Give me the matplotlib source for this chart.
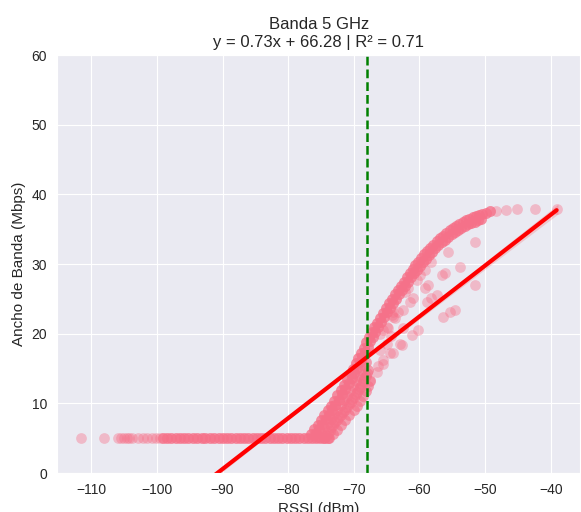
import numpy as np
import matplotlib
matplotlib.use("Agg")
import matplotlib.pyplot as plt
import seaborn as sns

# regression reported in the title
slope = 0.73
intercept = 66.28
r2 = 0.71
rssi_threshold = -68.0

# floor of the curve: many readings at 5 Mbps
floor_y = 5.0
floor_sparse_x = [-111.6, -108.1, -105.9, -105.5, -105.0, -104.6, -104.2, -103.8,
                  -102.8, -102.1, -101.5, -100.8, -100.2, -99.5]
floor_dense_x = [-99.0, -98.4, -97.8, -97.1, -96.5, -95.8, -95.2, -94.5, -93.9, -93.2,
                 -92.6, -91.9, -91.3, -90.6, -90.0, -89.3, -88.7, -88.0, -87.4, -86.7,
                 -86.1, -85.4, -84.8, -84.1, -83.5, -82.8, -82.2, -81.5, -80.9, -80.2,
                 -79.6, -78.9, -78.3, -77.6, -77.0, -76.4, -75.8, -75.2, -74.6, -74.0]

# main rising band, upper row
band_x = [-76.5, -76.0, -75.5, -75.0, -74.5, -74.0, -73.5, -73.0, -72.5, -72.0,
          -71.5, -71.0, -70.5, -70.1, -69.7, -69.3, -68.9, -68.5, -68.1, -67.7,
          -67.3, -66.9, -66.45, -66.0, -65.55, -65.1, -64.65, -64.2, -63.75, -63.3,
          -62.85, -62.4, -61.95, -61.5, -61.05, -60.6, -60.15, -59.7, -59.25, -58.8,
          -58.35, -57.9, -57.4, -56.9, -56.4, -55.9, -55.4, -54.9, -54.4, -53.9,
          -53.4, -52.9, -52.4, -51.9, -51.4, -50.9, -50.4, -49.9, -49.2]
band_y = [5.6, 6.3, 6.95, 7.6, 8.3, 9.0, 9.7, 10.4, 11.15, 11.9,
          12.7, 13.5, 14.3, 15.0, 15.75, 16.5, 17.25, 18.0, 18.75, 19.5,
          20.2, 20.9, 21.6, 22.3, 23.0, 23.7, 24.35, 25.0, 25.65, 26.3,
          26.9, 27.5, 28.1, 28.7, 29.25, 29.8, 30.35, 30.9, 31.4, 31.9,
          32.35, 32.8, 33.25, 33.7, 34.1, 34.5, 34.85, 35.2, 35.5, 35.8,
          36.05, 36.3, 36.5, 36.7, 36.9, 37.1, 37.25, 37.4, 37.6]

# main rising band, lower row
band_low_x = [-75.8, -75.3, -74.8, -74.3, -73.8, -73.3, -72.8, -72.3, -71.8, -71.3,
              -70.8, -70.3, -69.9, -69.5, -69.1, -68.7, -68.3, -67.9, -67.5, -67.1,
              -66.7, -66.25, -65.8, -65.35, -64.9, -64.45, -64.0, -63.55, -63.1, -62.65,
              -62.2, -61.75, -61.3, -60.85, -60.4, -59.95, -59.5, -59.05, -58.6, -58.1,
              -57.6, -57.1, -56.6, -56.1, -55.6, -55.1, -54.6, -54.1, -53.6, -53.1,
              -52.6, -52.1, -51.6, -51.1, -50.6]
band_low_y = [5.7, 6.35, 7.0, 7.7, 8.4, 9.1, 9.8, 10.55, 11.3, 12.1,
              12.9, 13.7, 14.4, 15.15, 15.9, 16.65, 17.4, 18.15, 18.9, 19.6,
              20.3, 21.0, 21.7, 22.4, 23.1, 23.75, 24.4, 25.05, 25.7, 26.3,
              26.9, 27.5, 28.1, 28.65, 29.2, 29.75, 30.3, 30.8, 31.3, 31.8,
              32.25, 32.7, 33.1, 33.5, 33.9, 34.25, 34.6, 34.9, 35.2, 35.45,
              35.7, 35.9, 36.1, 36.3, 36.5]

# plateau tail
tail_x = [-48.3, -46.8, -45.2, -42.4, -39.1]
tail_y = [37.6, 37.7, 37.9, 37.9, 37.9]

# wedge under the rising band
wedge_x = [-73.8, -73.2, -72.6, -72.0, -71.3, -70.7, -70.0, -69.5, -69.0, -68.6, -68.2, -67.8, -67.5,
           -75.5, -75.0, -74.5, -74.0, -73.5, -73.0, -72.5, -72.0, -71.5, -71.0, -70.6, -70.1,
           -69.7, -69.3, -68.9, -68.5, -68.2,
           -74.6, -74.0, -73.4, -72.8, -72.2, -71.6, -71.0, -70.5, -70.0, -69.5, -69.0, -68.6,
           -68.2, -67.9,
           -74.2, -73.7, -73.1, -72.5, -71.9, -71.3, -70.7, -70.2, -69.7, -69.2, -68.8, -68.4,
           -68.0]
wedge_y = [5.0, 5.6, 6.2, 6.9, 7.6, 8.3, 9.0, 9.7, 10.4, 11.1, 11.8, 12.5, 13.2,
           5.2, 5.9, 6.5, 7.2, 7.8, 8.5, 9.1, 9.8, 10.5, 11.1, 11.8, 12.5,
           13.2, 13.9, 14.6, 15.3, 16.0,
           5.0, 5.8, 6.6, 7.3, 8.0, 8.7, 9.5, 10.2, 10.9, 11.6, 12.4, 13.2,
           14.0, 14.8,
           5.3, 6.1, 6.9, 7.6, 8.4, 9.1, 9.9, 10.6, 11.3, 12.0, 12.8, 13.6,
           14.4]

# scattered readings below the band
loose_x = [-55.6, -58.2, -53.8, -51.6, -51.6, -56.1, -56.6, -59.2, -59.9, -60.4,
           -58.7, -59.2, -61.7, -62.2, -61.0, -61.5, -57.4, -58.2, -58.9, -62.5,
           -63.2, -64.2, -64.0, -54.6, -55.4, -56.4, -60.2, -61.2, -63.7, -65.5,
           -64.8, -62.5, -62.7, -64.0, -63.0, -64.5, -65.5, -66.5, -67.5, -66.3,
           -66.0, -65.5, -65.0, -64.3, -66.0, -65.0, -64.0]
loose_y = [31.8, 30.3, 29.6, 33.2, 27.0, 28.7, 28.5, 29.1, 28.4, 27.7,
           27.0, 26.5, 26.5, 26.0, 25.1, 24.6, 25.5, 25.1, 24.6, 23.4,
           23.1, 22.7, 23.1, 23.4, 23.1, 22.4, 20.5, 19.8, 22.2, 20.5,
           20.8, 20.8, 18.4, 17.2, 18.6, 17.2, 15.7, 14.5, 13.3, 15.3,
           17.6, 16.2, 18.6, 19.7, 20.0, 21.0, 22.4]

# confidence band half-width of the fit (left end, centre, right end)
ci_x = [-111.6, -75.0, -38.9]
ci_half = [0.7, 0.15, 0.7]

sns.set_style("darkgrid")
plt.rcParams['font.family'] = ['Liberation Sans', 'DejaVu Sans']

fig = plt.figure(figsize=(5.81, 5.12), dpi=100)
ax = fig.add_axes([0.098, 0.076, 0.901, 0.8164])

pt_color = "#f77189"
# dense parts of the cloud hold repeated readings
dense_x = np.repeat(np.concatenate([floor_dense_x, band_x, band_low_x]), 3)
dense_y = np.repeat(np.concatenate([np.full(len(floor_dense_x), floor_y), band_y, band_low_y]), 3)
all_x = np.concatenate([floor_sparse_x, dense_x, np.repeat(wedge_x, 2), loose_x, tail_x])
all_y = np.concatenate([np.full(len(floor_sparse_x), floor_y), dense_y, np.repeat(wedge_y, 2),
                        loose_y, tail_y])

ax.scatter(all_x, all_y, s=60, color=pt_color, alpha=0.4, linewidths=0)

xmin, xmax = all_x.min(), all_x.max()
fit_x = np.array([xmin, xmax])
ax.fill_between(ci_x, slope * np.array(ci_x) + intercept - np.array(ci_half),
                slope * np.array(ci_x) + intercept + np.array(ci_half),
                color="red", alpha=0.15, linewidth=0)
ax.plot(fit_x, slope * fit_x + intercept, color="red", linewidth=3)

ax.axvline(rssi_threshold, color="green", linestyle=(0, (3.5, 1.6)), linewidth=1.8)

pad = 0.05 * (xmax - xmin)
ax.set_xlim(xmin - pad, xmax + pad)
ax.set_ylim(0, 60)
ax.set_xticks([-110, -100, -90, -80, -70, -60, -50, -40])

ax.set_title(f"Banda 5 GHz\ny = {slope:.2f}x + {intercept:.2f} | R² = {r2:.2f}", fontsize=12)
ax.set_xlabel("RSSI (dBm)", fontsize=11)
ax.set_ylabel("Ancho de Banda (Mbps)", fontsize=11)
ax.tick_params(labelsize=10)

fig.savefig("out.png", dpi=100)
